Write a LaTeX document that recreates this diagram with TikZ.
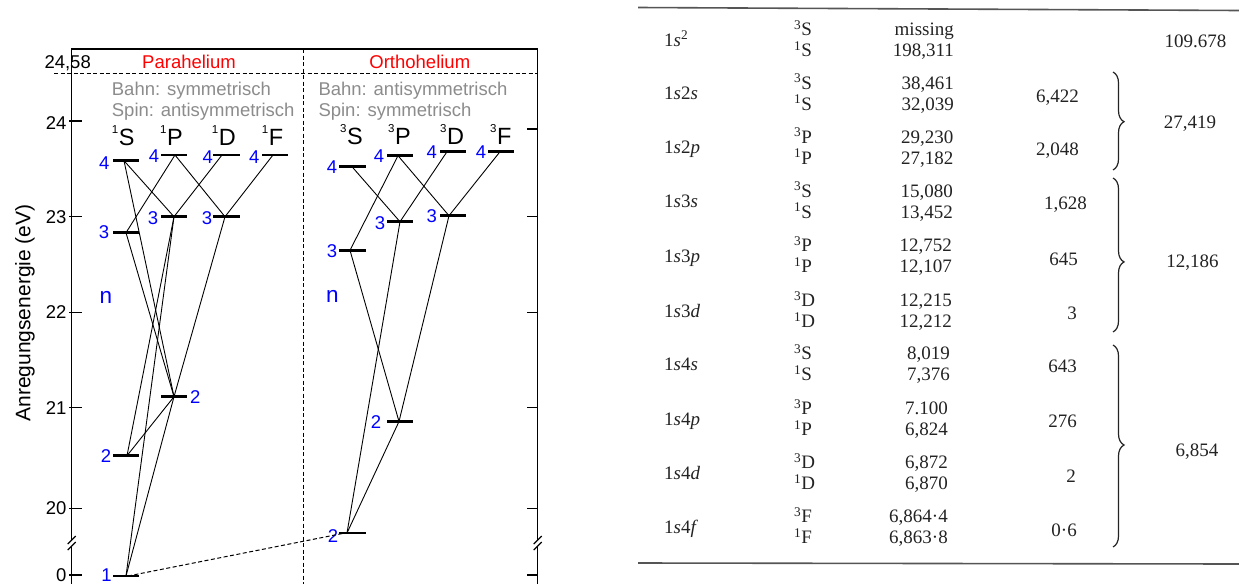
\documentclass[tikz,border=0pt]{standalone}
\usepackage{fontspec}
\setmainfont{Liberation Sans}
\newfontfamily\serifT{Liberation Serif}
\usetikzlibrary{decorations.pathreplacing}
\definecolor{lblue}{RGB}{0,0,255}
\definecolor{lred}{RGB}{255,0,0}
\definecolor{lgrey}{RGB}{140,140,140}
\definecolor{tink}{RGB}{35,35,35}
\definecolor{trule}{RGB}{85,85,85}
\newcommand\fsz[1]{\fontsize{#1}{#1}\selectfont}
\newcommand\lev[5]{\coordinate (#1) at (#2,#3); \draw[bar] (#4,#3) -- (#5,#3);}
\newcommand\term[2]{{\fsz{11.5}\raisebox{12pt}{#1}}\kern0.5pt #2}
\newcommand\tabrow[7]{%
  \node[tab, anchor=base west] (#1c) at (664,#3+6) {#2};
  \node[tab, anchor=base west] (#1a) at (794,#3-10.5+6) {\textsuperscript{3}#4};
  \node[tab, anchor=base west] (#1b) at (794,#3+10.5+6) {\textsuperscript{1}#4};
  \node[tab, anchor=base east] (#1x) at (#7,#3-10.5+6) {#5};
  \node[tab, anchor=base east] (#1y) at (#7,#3+10.5+6) {#6};}
\begin{document}
\begin{tikzpicture}[x=1pt,y=-1pt,
  frame/.style={line width=1.2pt},
  bar/.style={line width=2.8pt},
  trans/.style={line width=0.9pt},
  dsh/.style={line width=1pt, dash pattern=on 4pt off 2.5pt},
  num/.style={text=lblue, font=\fsz{18.5}, inner sep=0pt},
  ticklab/.style={font=\fsz{18.5}, inner sep=0pt, anchor=east},
  head/.style={font=\fsz{23.5}, inner sep=0pt, anchor=base west},
  info/.style={font=\fsz{18.5}, text=lgrey, inner sep=0pt, anchor=base west},
  title/.style={font=\fsz{18.5}, text=lred, inner sep=0pt},
  tab/.style={font=\serifT\fsz{19}, text=tink, inner sep=0pt},
  tbrace/.style={decorate, line width=1.2pt, draw=tink},
  rule/.style={line width=1.6pt, draw=trule}]
\useasboundingbox (0,0) rectangle (1239,584);
\fill[white] (0,0) rectangle (1239,584);

% ---------- frame ----------
\draw[frame] (71.7,540) -- (71.7,49) -- (537.7,49) -- (537.7,540);
\draw[frame] (71.7,546) -- (71.7,584);
\draw[frame] (537.7,546) -- (537.7,584);
\draw[frame] (67.7,544) -- (75.7,536);
\draw[frame] (67.7,550) -- (75.7,542);
\draw[frame] (533.7,544) -- (541.7,536);
\draw[frame] (533.7,550) -- (541.7,542);
\foreach \yy in {121,216.7,312.3,407.5,508.5,575} \draw[frame] (69,\yy) -- (82,\yy);
\foreach \yy in {129,216.7,312.3,407.5,508.5,575} \draw[frame] (527,\yy) -- (537.7,\yy);
\draw[dsh] (54,73.3) -- (537.7,73.3);
\draw[dsh] (303.3,49) -- (303.3,584);

% ---------- axis labels ----------
\node[ticklab] (l2458) at (91,62.8) {24,58};
\node[ticklab] (l24) at (66.7,122.7) {24};
\node[ticklab] (l23) at (66.7,216.7) {23};
\node[ticklab] (l22) at (66.7,312.3) {22};
\node[ticklab] (l21) at (66.7,407.7) {21};
\node[ticklab] (l20) at (66.7,508.5) {20};
\node[ticklab] (l0) at (66.7,575.5) {0};
\node[font=\fsz{21}, rotate=90, inner sep=0pt] (ylab) at (25,313) {Anregungsenergie (eV)};

% ---------- titles ----------
\node[title] (para) at (189,62.3) {Parahelium};
\node[title] (ortho) at (419.8,62.3) {Orthohelium};
\node[info] (pb) at (111.7,95) {Bahn: symmetrisch};
\node[info] (ps) at (111.7,116) {Spin: antisymmetrisch};
\node[info] (ob) at (318.3,95) {Bahn: antisymmetrisch};
\node[info] (os) at (318.3,116) {Spin: symmetrisch};

\node[head] (h1S) at (111.7,145) {\term{1}{S}};
\node[head] (h1P) at (160,145) {\term{1}{P}};
\node[head] (h1D) at (211.7,145) {\term{1}{D}};
\node[head] (h1F) at (261.7,145) {\term{1}{F}};
\node[head] (h3S) at (340,144) {\term{3}{S}};
\node[head] (h3P) at (388,144) {\term{3}{P}};
\node[head] (h3D) at (440,144) {\term{3}{D}};
\node[head] (h3F) at (490,144) {\term{3}{F}};

\node[num, font=\fsz{22.5}] (npara) at (106,297) {n};
\node[num, font=\fsz{22.5}] (northo) at (332.5,296.7) {n};

% ---------- levels ----------
\lev{sS4}{124}{160.7}{113}{139}
\lev{sS3}{126}{232.7}{113}{139}
\lev{sS2}{127}{455.7}{113}{139}
\lev{sS1}{126}{576}{113}{139}
\lev{sP4}{175}{155}{161}{187}
\lev{sP3}{174}{216.7}{161}{187}
\lev{sP2}{174}{396.7}{161}{187}
\lev{sD4}{222}{155}{213}{240}
\lev{sD3}{225}{216.7}{213}{240}
\lev{sF4}{273}{155}{262}{288}
\lev{tS4}{352}{166.7}{339}{366}
\lev{tS3}{350}{250.3}{339}{366}
\lev{tS2}{347}{533}{339}{366}
\lev{tP4}{398}{155.7}{387}{413}
\lev{tP3}{400}{221.7}{387}{413}
\lev{tP2}{399}{421.5}{387}{413}
\lev{tD4}{447}{151.7}{440}{466}
\lev{tD3}{449}{215.7}{440}{466}
\lev{tF4}{500}{151.7}{488}{514}

% level numbers
\node[num] (nsS4) at (104.3,163.3) {4};
\node[num] (nsP4) at (154,156) {4};
\node[num] (nsD4) at (207.7,157.5) {4};
\node[num] (nsF4) at (254.3,157) {4};
\node[num] (nsS3) at (104,231.7) {3};
\node[num] (nsP3) at (153,218) {3};
\node[num] (nsD3) at (207,218) {3};
\node[num] (nsP2) at (195.3,397) {2};
\node[num] (nsS2) at (106,456.5) {2};
\node[num] (nsS1) at (106.5,575.5) {1};
\node[num] (ntS4) at (332,167.5) {4};
\node[num] (ntP4) at (379,156) {4};
\node[num] (ntD4) at (431.7,152) {4};
\node[num] (ntF4) at (481,152) {4};
\node[num] (ntS3) at (332,251.5) {3};
\node[num] (ntP3) at (380,223) {3};
\node[num] (ntD3) at (431.7,216.3) {3};
\node[num] (ntP2) at (376,422) {2};
\node[num] (ntS2) at (333,536) {2};

% ---------- transitions ----------
\foreach \a/\b in {sS4/sP3, sS4/sP2, sS3/sP4, sS3/sP2, sP4/sD3, sD4/sP3, sF4/sD3,
                   sP3/sS2, sP3/sS1, sD3/sP2, sP2/sS2, sP2/sS1,
                   tS4/tP3, tP4/tS3, tP4/tD3, tD4/tP3, tF4/tD3, tS3/tP2, tP3/tS2, tD3/tP2, tP2/tS2}
  \draw[trans] (\a) -- (\b);
\draw[dsh] ([xshift=2pt]sS1) -- ([xshift=-2pt]tS2);

% ---------- table ----------
\draw[rule] (638,7.5) -- (1239,10.5);
\draw[rule] (638,563) -- (1239,564);

\tabrow{r1}{1\textit{s}\textsuperscript{2}}{40}{S}{missing}{198,311}{954}
\tabrow{r2}{1\textit{s}2\textit{s}}{93.5}{S}{38,461}{32,039}{954}
\tabrow{r3}{1\textit{s}2\textit{p}}{147.5}{P}{29,230}{27,182}{953.5}
\tabrow{r4}{1\textit{s}3\textit{s}}{201.5}{S}{15,080}{13,452}{953}
\tabrow{r5}{1\textit{s}3\textit{p}}{256}{P}{12,752}{12,107}{952}
\tabrow{r6}{1\textit{s}3\textit{d}}{311}{D}{12,215}{12,212}{952}
\tabrow{r7}{1\textit{s}4\textit{s}}{364}{S}{8,019}{7,376}{950}
\tabrow{r8}{1\textit{s}4\textit{p}}{419}{P}{7.100}{6,824}{948}
\tabrow{r9}{1\textit{s}4\textit{d}}{473}{D}{6,872}{6,870}{948}
\tabrow{r10}{1\textit{s}4\textit{f}}{527}{F}{6,864·4}{6,863·8}{948}

\node[tab, anchor=base east] (d1) at (1079,102) {6,422};
\node[tab, anchor=base east] (d2) at (1079,155) {2,048};
\node[tab, anchor=base east] (d3) at (1087,209) {1,628};
\node[tab, anchor=base east] (d4) at (1078,265) {645};
\node[tab, anchor=base east] (d5) at (1077,319) {3};
\node[tab, anchor=base east] (d6) at (1077,372) {643};
\node[tab, anchor=base east] (d7) at (1077,427) {276};
\node[tab, anchor=base east] (d8) at (1076,482) {2};
\node[tab, anchor=base east] (d9) at (1077,536) {0·6};

\node[tab, anchor=base] (g1) at (1195.5,47) {109.678};
\node[tab, anchor=base] (g2) at (1190,128) {27,419};
\node[tab, anchor=base] (g3) at (1192.5,267) {12,186};
\node[tab, anchor=base] (g4) at (1197,456) {6,854};

\coordinate (b1t) at (1113,72);  \coordinate (b1b) at (1113,170);
\coordinate (b2t) at (1113,178); \coordinate (b2b) at (1113,332);
\coordinate (b3t) at (1113,345); \coordinate (b3b) at (1113,547);
\draw[tbrace, decoration={brace, amplitude=11pt, aspect=0.507}] (b1t) -- (b1b);
\draw[tbrace, decoration={brace, amplitude=11pt, aspect=0.545}] (b2t) -- (b2b);
\draw[tbrace, decoration={brace, amplitude=11pt, aspect=0.495}] (b3t) -- (b3b);
\end{tikzpicture}
\end{document}
